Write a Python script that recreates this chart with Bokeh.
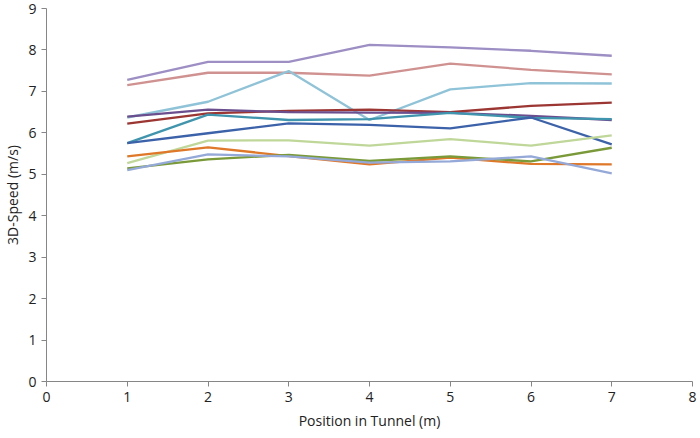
from bokeh.plotting import figure
from bokeh.embed import file_html
from bokeh.resources import INLINE
from bokeh.models import Range1d, FixedTicker

positions = [1, 2, 3, 4, 5, 6, 7]

lavender = [7.28, 7.71, 7.71, 8.12, 8.06, 7.98, 7.86]
rose = [7.15, 7.45, 7.45, 7.38, 7.67, 7.52, 7.41]
sky = [6.37, 6.75, 7.49, 6.31, 7.05, 7.20, 7.19]
dark_red = [6.22, 6.47, 6.53, 6.56, 6.50, 6.65, 6.73]
dark_purple = [6.39, 6.56, 6.50, 6.49, 6.48, 6.41, 6.31]
teal = [5.75, 6.44, 6.31, 6.33, 6.48, 6.36, 6.33]
dark_blue = [5.75, 5.99, 6.23, 6.19, 6.11, 6.37, 5.72]
light_green = [5.27, 5.81, 5.82, 5.69, 5.85, 5.69, 5.94]
orange = [5.43, 5.65, 5.44, 5.24, 5.40, 5.25, 5.24]
olive = [5.14, 5.36, 5.47, 5.32, 5.43, 5.31, 5.64]
periwinkle = [5.10, 5.48, 5.43, 5.28, 5.31, 5.43, 5.02]

series = [
    (lavender, "#9d8ec4"),
    (rose, "#d09290"),
    (sky, "#8fc3d8"),
    (dark_red, "#9b3633"),
    (dark_purple, "#6a4e8e"),
    (teal, "#3f95ad"),
    (dark_blue, "#3c62aa"),
    (light_green, "#c0d79a"),
    (orange, "#e0782a"),
    (olive, "#7a9a3a"),
    (periwinkle, "#94a9d8"),
]

x_ticks = [0, 1, 2, 3, 4, 5, 6, 7, 8]
y_ticks = [0, 1, 2, 3, 4, 5, 6, 7, 8, 9]

p = figure(width=697, height=432, output_backend="svg", toolbar_location=None,
           x_range=Range1d(0, 8), y_range=Range1d(0, 9),
           min_border_left=10, min_border_right=5, min_border_top=8, min_border_bottom=10)
p.outline_line_color = None
p.xgrid.grid_line_color = None
p.ygrid.grid_line_color = None

for vals, col in series:
    p.line(positions, vals, line_color=col, line_width=2.3)

font = "Open Sans"
for ax in (p.xaxis, p.yaxis):
    ax.axis_line_color = "#868686"
    ax.major_tick_line_color = "#868686"
    ax.minor_tick_line_color = None
    ax.major_tick_in = 0
    ax.major_tick_out = 5
    ax.major_label_text_font = font
    ax.major_label_text_font_size = "14px"
    ax.major_label_text_color = "#222222"
    ax.axis_label_text_font = font
    ax.axis_label_text_font_size = "14px"
    ax.axis_label_text_font_style = "normal"
    ax.axis_label_text_color = "#222222"

p.xaxis.ticker = FixedTicker(ticks=x_ticks)
p.yaxis.ticker = FixedTicker(ticks=y_ticks)
p.xaxis.axis_label = "Position in Tunnel (m)"
p.yaxis.axis_label = "3D-Speed (m/s)"
p.xaxis.axis_label_standoff = 6
p.yaxis.axis_label_standoff = 3

open("out.html", "w").write(file_html(p, INLINE))
